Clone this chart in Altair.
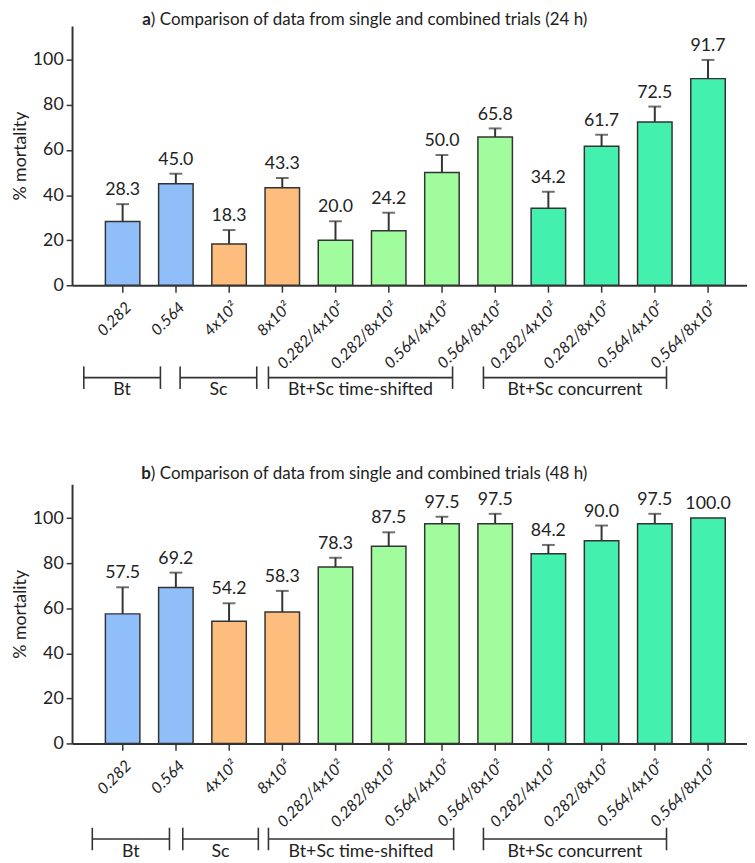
import altair as alt
import pandas as pd

FONT = "Lato"
DARK = "#333333"

categories = ["0.282", "0.564", "4x10²", "8x10²",
              "0.282/4x10²", "0.282/8x10²", "0.564/4x10²", "0.564/8x10²",
              "0.282/4x10²", "0.282/8x10²", "0.564/4x10²", "0.564/8x10²"]
treatment = ["Bt", "Bt", "Sc", "Sc",
             "Bt+Sc time-shifted", "Bt+Sc time-shifted", "Bt+Sc time-shifted", "Bt+Sc time-shifted",
             "Bt+Sc concurrent", "Bt+Sc concurrent", "Bt+Sc concurrent", "Bt+Sc concurrent"]

mortality_24h = [28.3, 45.0, 18.3, 43.3, 20.0, 24.2, 50.0, 65.8, 34.2, 61.7, 72.5, 91.7]
error_24h = [7.7, 4.5, 6.2, 4.3, 8.4, 8.0, 7.8, 3.8, 7.3, 5.1, 6.8, 8.3]
mortality_48h = [57.5, 69.2, 54.2, 58.3, 78.3, 87.5, 97.5, 97.5, 84.2, 90.0, 97.5, 100.0]
error_48h = [11.8, 6.6, 8.0, 9.4, 4.1, 6.2, 3.1, 4.4, 3.9, 6.7, 4.4, 0.0]

group_names = ["Bt", "Sc", "Bt+Sc time-shifted", "Bt+Sc concurrent"]
group_colors = ["#8FBEF8", "#FDBE7D", "#A0FC9C", "#44F0AE"]

# group brackets below the axis, in category-index units
bracket_start_24h = [-0.73, 1.08, 2.74, 6.78]
bracket_end_24h = [0.71, 2.52, 6.20, 10.22]
bracket_start_48h = [-0.57, 1.13, 2.74, 6.78]
bracket_end_48h = [0.88, 2.55, 6.22, 10.22]

label_expr = "[" + ",".join("'%s'" % c for c in categories) + "][datum.value]"


def panel(mort, err, bstart, bend, letter, hours, line_y, title_y):
    df = pd.DataFrame({"i": list(range(len(categories))), "label": categories,
                       "treatment": treatment, "mortality": mort, "err": err})
    df["top"] = df["mortality"] + df["err"]
    base = alt.Chart(df)

    x_enc = alt.X("i:Q", title=None,
                  scale=alt.Scale(domain=[-0.858, 11.64], nice=False, zero=False),
                  axis=alt.Axis(values=list(range(12)), labelExpr=label_expr,
                                labelAngle=-45, labelFontStyle="italic", labelFontSize=16,
                                labelFont=FONT, labelColor="#222", labelPadding=7,
                                labelAlign="right", labelBaseline="top",
                                labelOverlap=False, labelFlush=False, labelBound=False,
                                tickSize=7, tickWidth=1.5, tickColor=DARK,
                                domainWidth=2, domainColor=DARK, grid=False))
    y_enc = alt.Y("mortality:Q",
                  scale=alt.Scale(domain=[0, 115], nice=False),
                  axis=alt.Axis(values=[0, 20, 40, 60, 80, 100], title="% mortality",
                                titleFont=FONT, titleFontSize=18, titleFontWeight="normal",
                                titleColor="#222", titlePadding=3,
                                labelFont=FONT, labelFontSize=18, labelColor="#222",
                                labelPadding=3, tickSize=6, tickWidth=1.5, tickColor=DARK,
                                domainWidth=2, domainColor=DARK, grid=False))

    bars = base.mark_bar(orient="vertical", size=35, stroke=DARK, strokeWidth=1.5).encode(
        x=x_enc, y=y_enc,
        color=alt.Color("treatment:N", legend=None,
                        scale=alt.Scale(domain=group_names, range=group_colors)))
    with_err = base.transform_filter("datum.err > 0")
    err_line = with_err.mark_rule(color=DARK, strokeWidth=2).encode(
        x=alt.X("i:Q", title=None), y="mortality:Q", y2="top:Q")
    caps = with_err.mark_tick(orient="horizontal", size=13, thickness=2, color=DARK).encode(
        x=alt.X("i:Q", title=None), y="top:Q")
    values = base.mark_text(dy=-9, baseline="alphabetic", fontSize=18, font=FONT,
                            color="#222").encode(
        x=alt.X("i:Q", title=None), y="top:Q",
        text=alt.Text("mortality:Q", format=".1f"))

    bdf = pd.DataFrame({"label": group_names, "start": bstart, "end": bend})
    bbase = alt.Chart(bdf)
    hline = bbase.mark_rule(color=DARK, strokeWidth=1.6).encode(
        x=alt.X("start:Q", title=None), x2="end:Q", y=alt.datum(line_y))
    ends = bbase.transform_fold(["start", "end"], as_=["k", "xv"]).mark_rule(
        color=DARK, strokeWidth=1.6).encode(
        x=alt.X("xv:Q", title=None), y=alt.datum(line_y + 5), y2=alt.datum(line_y - 5))
    btext = bbase.transform_calculate(mid="(datum.start + datum.end) / 2").mark_text(
        baseline="top", dy=4, fontSize=18, font=FONT, color="#222").encode(
        x=alt.X("mid:Q", title=None), y=alt.datum(line_y), text="label:N")

    tdf = pd.DataFrame({"letter": [letter],
                        "rest": [") Comparison of data from single and combined trials (%s)" % hours]})
    tbase = alt.Chart(tdf)
    t_letter = tbase.mark_text(align="right", baseline="middle", fontSize=17.2, font=FONT,
                               fontWeight="bold", color="#222").encode(
        x=alt.value(80), y=alt.value(title_y), text="letter:N")
    t_rest = tbase.mark_text(align="left", baseline="middle", fontSize=17.2, font=FONT,
                             color="#222").encode(
        x=alt.value(80), y=alt.value(title_y), text="rest:N")

    return alt.layer(bars, err_line, caps, values, hline, ends, btext, t_letter, t_rest).properties(
        width=685, height=263)


top = panel(mortality_24h, error_24h, bracket_start_24h, bracket_end_24h, "a", "24 h", -41, -6)
bottom = panel(mortality_48h, error_48h, bracket_start_48h, bracket_end_48h, "b", "48 h", -42.4, -10)

chart = alt.vconcat(top, bottom, spacing=67).properties(
    padding={"left": 3, "top": -3, "right": 0, "bottom": 0}).configure_view(stroke=None)

chart.save("out.html", embed_options={"renderer": "svg", "actions": False})
